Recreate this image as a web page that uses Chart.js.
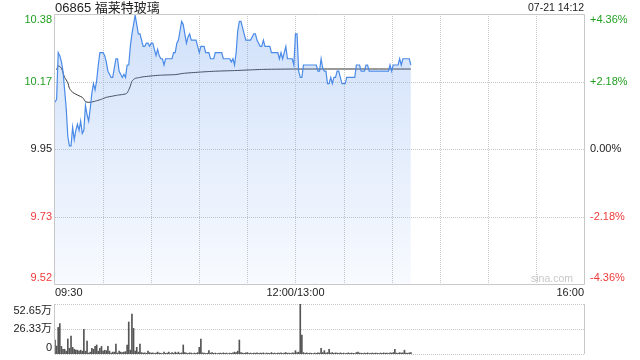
<!DOCTYPE html>
<html>
<head>
<meta charset="utf-8">
<script src="https://cdn.jsdelivr.net/npm/chart.js@4.4.0/dist/chart.umd.min.js"></script>
<style>
html, body { margin: 0; padding: 0; background: #fff; }
#wrap { position: relative; width: 640px; height: 360px; }
#wrap canvas { position: absolute; left: 0; top: 0; }
</style>
</head>
<body>
<div id="wrap">
<canvas id="priceChart" width="640" height="360"></canvas>
<canvas id="volumeChart" width="640" height="360"></canvas>
</div>
<script>
const stockTitle = '06865 福莱特玻璃';
const stamp = '07-21 14:12';
const prevClose = 9.95;
const pctLevels = [4.36, 2.18, 0, -2.18, -4.36];
const timeLabels = ['09:30', '12:00/13:00', '16:00'];
const volumeLabels = ['52.65万', '26.33万', '0'];
const volumeLevels = [52.65, 26.33, 0];

// one price per minute from 09:30 (afternoon continues after 12:00 at 13:00)
const prices = [
  10.10, 10.11, 10.26, 10.25, 10.23, 10.20, 10.14, 10.08, 9.99, 9.96,
  9.96, 10.02, 9.98, 10.01, 10.03, 10.01, 10.04, 10.00, 10.01, 10.09,
  10.06, 10.04, 10.08, 10.13, 10.16, 10.14, 10.17, 10.22, 10.26, 10.26,
  10.26, 10.25, 10.23, 10.20, 10.19, 10.18, 10.18, 10.21, 10.24, 10.24,
  10.20, 10.19, 10.18, 10.19, 10.18, 10.22, 10.22, 10.28, 10.32, 10.35,
  10.38, 10.35, 10.32, 10.32, 10.30, 10.28, 10.28, 10.29, 10.29, 10.28,
  10.29, 10.29, 10.27, 10.25, 10.27, 10.25, 10.24, 10.24, 10.22, 10.24,
  10.24, 10.24, 10.24, 10.24, 10.26, 10.26, 10.29, 10.30, 10.33, 10.36,
  10.35, 10.32, 10.29, 10.31, 10.32, 10.30, 10.30, 10.30, 10.30, 10.28,
  10.26, 10.28, 10.28, 10.28, 10.26, 10.26, 10.26, 10.24, 10.24, 10.24,
  10.26, 10.26, 10.26, 10.26, 10.26, 10.24, 10.24, 10.24, 10.24, 10.24,
  10.23, 10.24, 10.22, 10.26, 10.33, 10.36, 10.36, 10.34, 10.32, 10.30,
  10.30, 10.30, 10.30, 10.31, 10.32, 10.32, 10.30, 10.29, 10.28, 10.28,
  10.30, 10.28, 10.28, 10.28, 10.28, 10.26, 10.26, 10.26, 10.26, 10.26,
  10.24, 10.26, 10.24, 10.26, 10.28, 10.24, 10.24, 10.24, 10.24, 10.22,
  10.32, 10.32, 10.20, 10.18, 10.18, 10.22, 10.22, 10.22, 10.22, 10.22,
  10.22, 10.22, 10.22, 10.22, 10.20, 10.20, 10.24, 10.21, 10.20, 10.20,
  10.16, 10.16, 10.18, 10.16, 10.18, 10.18, 10.20, 10.20, 10.18, 10.16,
  10.16, 10.16, 10.18, 10.18, 10.18, 10.18, 10.18, 10.18, 10.22, 10.22,
  10.22, 10.20, 10.20, 10.20, 10.22, 10.22, 10.20, 10.20, 10.20, 10.20,
  10.20, 10.20, 10.20, 10.20, 10.20, 10.20, 10.20, 10.20, 10.20, 10.22,
  10.20, 10.22, 10.22, 10.22, 10.22, 10.24, 10.22, 10.24, 10.24, 10.24,
  10.24, 10.24, 10.22
];

const avgTimes = [
  '09:31', '09:32', '09:33', '09:34', '09:35', '09:36', '09:37', '09:38', '09:39', '09:40',
  '09:41', '09:43', '09:45', '09:47', '09:48', '09:49', '09:51', '09:53', '09:56', '09:59',
  '10:02', '10:06', '10:09', '10:12', '10:14', '10:15', '10:16', '10:17', '10:18', '10:20',
  '10:22', '10:25', '10:35', '10:45', '10:50', '11:00', '11:10', '11:22', '11:31', '11:41',
  '13:00', '14:12'
];
const avgPrices = [
  10.205, 10.217, 10.215, 10.21, 10.195, 10.18, 10.172, 10.163, 10.145, 10.138,
  10.132, 10.126, 10.121, 10.116, 10.11, 10.102, 10.10, 10.101, 10.105, 10.11,
  10.116, 10.12, 10.123, 10.125, 10.127, 10.13, 10.14, 10.152, 10.168, 10.177,
  10.179, 10.182, 10.187, 10.189, 10.193, 10.197, 10.20, 10.202, 10.204, 10.206,
  10.207, 10.207
];

// volume per minute, in 万 shares
const volumes = [
  14.7, 8.4, 28, 32, 8, 5, 5, 3, 15.8, 6,
  19, 7, 5, 4, 4, 3, 4, 3, 26, 3,
  13.7, 1, 2, 6, 5, 8, 9.5, 3, 6, 8,
  3, 4, 3.5, 8, 3, 1, 2, 2, 10.5, 1,
  3, 2, 1.5, 2, 2.5, 9.5, 33.7, 4, 42, 27,
  3, 7, 2, 10.5, 1.5, 1, 1.2, 0.8, 3, 1.5,
  1, 1.2, 0.6, 1, 2, 1, 0.8, 0.5, 2, 0.7,
  1, 2, 0.6, 1.5, 0.8, 2, 1, 2, 0.7, 1.2,
  9.5, 1.5, 1, 0.6, 1.2, 1, 0.5, 1, 0.8, 1.5,
  7, 15.8, 1.2, 1, 0.6, 0.8, 3.5, 1, 1.5, 0.7,
  1, 0.5, 0.8, 1, 0.6, 1.2, 0.8, 1, 0.5, 1,
  0.7, 1.2, 2, 1.5, 3, 14.7, 1.5, 1, 0.8, 1.2,
  1.5, 0.8, 1, 0.5, 1, 0.8, 1.2, 0.6, 1, 0.8,
  1.2, 0.5, 1, 0.8, 0.6, 1.5, 0.8, 1, 0.5, 1,
  0.8, 1.2, 0.6, 1, 1.5, 0.8, 1, 0.6, 1.2, 1,
  3.5, 1.5, 2, 52.65, 20, 1.5, 0.8, 1.2, 0.6, 1,
  0.8, 0.5, 1, 0.7, 1.2, 1, 6, 1.5, 3.5, 1,
  1.5, 5, 1, 1.5, 0.8, 1.2, 1, 0.6, 1.2, 0.8,
  1, 0.5, 0.8, 1.2, 0.6, 1, 0.8, 0.5, 1.5, 2,
  1, 0.8, 0.6, 1, 0.8, 1.2, 0.5, 0.8, 1, 0.6,
  1, 0.8, 0.5, 1, 0.7, 1.2, 0.8, 1, 0.6, 1.2,
  1, 1.5, 5, 1, 0.8, 1.5, 1, 1.2, 4, 1,
  0.8, 1.2, 1.5
];

// 09:30-12:00 then 13:00-16:00 squeezed into one 330 minute axis
function minuteOf(t) {
  const parts = t.split('/')[0].split(':').map(Number);
  const mins = parts[0] * 60 + parts[1];
  return mins <= 720 ? mins - 570 : mins - 780 + 150;
}

const GREEN = '#22a022';
const RED = '#f03a3a';
const DARK = '#222';
const FRAME = '#c8c8c8';
const FONT = "'Liberation Sans', Arial, 'Noto Sans CJK SC', sans-serif";

function dotted(ctx, x1, y1, x2, y2) {
  ctx.save();
  ctx.strokeStyle = FRAME;
  ctx.lineWidth = 1;
  ctx.setLineDash([1, 1]);
  ctx.beginPath();
  ctx.moveTo(x1, y1);
  ctx.lineTo(x2, y2);
  ctx.stroke();
  ctx.restore();
}

function solid(ctx, x1, y1, x2, y2) {
  ctx.save();
  ctx.strokeStyle = FRAME;
  ctx.lineWidth = 1;
  ctx.beginPath();
  ctx.moveTo(x1, y1);
  ctx.lineTo(x2, y2);
  ctx.stroke();
  ctx.restore();
}

const pricePanel = {
  id: 'pricePanel',
  beforeDatasetsDraw(chart) {
    const { ctx, chartArea: a, scales: { x, y } } = chart;
    pctLevels.forEach(p => {
      if (Math.abs(p) > 4) return;
      const py = Math.round(y.getPixelForValue(prevClose * (1 + p / 100))) + 0.5;
      dotted(ctx, a.left, py, a.right, py);
    });
    for (let m = 30; m < 330; m += 30) {
      const px = Math.round(x.getPixelForValue(m)) + 0.5;
      dotted(ctx, px, a.top, px, a.bottom);
    }
  },
  afterDraw(chart) {
    const { ctx, chartArea: a, scales: { x, y } } = chart;
    const l = Math.round(a.left) - 0.5, r = Math.round(a.right) + 0.5;
    const t = Math.round(a.top) + 0.5, b = Math.round(a.bottom) + 0.5;
    solid(ctx, l, t, r, t);
    solid(ctx, l, b, r, b);
    solid(ctx, l, t, l, b);
    solid(ctx, r, t, r, b);

    ctx.save();
    ctx.textBaseline = 'middle';
    ctx.font = '11px ' + FONT;
    pctLevels.forEach(p => {
      const v = prevClose * (1 + p / 100);
      let py = y.getPixelForValue(v);
      py = Math.min(Math.max(py, a.top + 6), a.bottom - 6);
      ctx.fillStyle = p > 0 ? GREEN : (p < 0 ? RED : DARK);
      ctx.textAlign = 'right';
      ctx.fillText(v.toFixed(2), a.left - 3, py);
      ctx.textAlign = 'left';
      const txt = (p > 0 ? '+' : '') + p.toFixed(2) + '%';
      ctx.fillText(txt, a.right + 6, py);
    });

    ctx.fillStyle = DARK;
    timeLabels.forEach((t, i) => {
      ctx.textAlign = i === 0 ? 'left' : (i === timeLabels.length - 1 ? 'right' : 'center');
      ctx.fillText(t, x.getPixelForValue(minuteOf(t)), a.bottom + 9);
    });

    ctx.font = '10.5px ' + FONT;
    ctx.textAlign = 'right';
    ctx.fillText(stamp, a.right, 8);

    ctx.fillStyle = '#c8c8c8';
    ctx.fillText('sina.com', a.right - 11, a.bottom - 5);

    ctx.font = '13px ' + FONT;
    ctx.fillStyle = DARK;
    ctx.textAlign = 'left';
    ctx.fillText(stockTitle, a.left, 8);
    ctx.restore();
  }
};

const volumePanel = {
  id: 'volumePanel',
  beforeDatasetsDraw(chart) {
    const { ctx, chartArea: a, scales: { y } } = chart;
    volumeLevels.forEach(v => {
      const py = Math.round(y.getPixelForValue(v)) + 0.5;
      dotted(ctx, a.left, py, a.right, py);
    });
    const l = Math.round(a.left) - 0.5, r = Math.round(a.right) + 0.5;
    solid(ctx, l, a.top, l, a.bottom);
    solid(ctx, r, a.top, r, a.bottom);
  },
  afterDraw(chart) {
    const { ctx, chartArea: a, scales: { y } } = chart;
    ctx.save();
    ctx.font = '11px ' + FONT;
    ctx.fillStyle = DARK;
    ctx.textAlign = 'right';
    ctx.textBaseline = 'middle';
    volumeLevels.forEach((v, i) => {
      let py = y.getPixelForValue(v);
      py = Math.min(Math.max(py, a.top + 7), a.bottom - 6);
      ctx.fillText(volumeLabels[i], a.left - 3, py);
    });
    ctx.restore();
  }
};

const priceMax = prevClose * (1 + pctLevels[0] / 100);
const priceMin = prevClose * (1 + pctLevels[pctLevels.length - 1] / 100);

new Chart(document.getElementById('priceChart'), {
  type: 'line',
  data: {
    datasets: [{
      data: prices.map((p, i) => ({ x: i, y: p })),
      borderColor: '#4a8be8',
      borderWidth: 1.2,
      pointRadius: 0,
      tension: 0,
      fill: 'start',
      backgroundColor: (c) => {
        const a = c.chart.chartArea;
        if (!a) return 'rgba(110,160,240,0.2)';
        const g = c.chart.ctx.createLinearGradient(0, a.top, 0, a.bottom);
        g.addColorStop(0, 'rgba(110,160,240,0.32)');
        g.addColorStop(1, 'rgba(110,160,240,0.05)');
        return g;
      }
    }, {
      data: avgTimes.map((t, i) => ({ x: minuteOf(t), y: avgPrices[i] })),
      borderColor: '#333',
      borderWidth: 1,
      pointRadius: 0,
      tension: 0.2,
      fill: false
    }]
  },
  options: {
    responsive: false,
    animation: false,
    devicePixelRatio: 1,
    layout: { padding: { left: 55, right: 56, top: 14, bottom: 76 } },
    plugins: { legend: { display: false }, tooltip: { enabled: false } },
    scales: {
      x: { type: 'linear', min: 0, max: 330, display: false },
      y: { min: priceMin, max: priceMax, display: false }
    }
  },
  plugins: [pricePanel]
});

new Chart(document.getElementById('volumeChart'), {
  type: 'bar',
  data: {
    datasets: [{
      data: volumes.map((v, i) => ({ x: i, y: v })),
      backgroundColor: '#555',
      borderWidth: 0,
      barThickness: 1
    }]
  },
  options: {
    responsive: false,
    animation: false,
    devicePixelRatio: 1,
    layout: { padding: { left: 55, right: 56, top: 304, bottom: 6 } },
    plugins: { legend: { display: false }, tooltip: { enabled: false } },
    scales: {
      x: { type: 'linear', min: 0, max: 330, offset: false, display: false },
      y: { min: 0, max: volumeLevels[0], display: false }
    }
  },
  plugins: [volumePanel]
});
</script>
</body>
</html>
